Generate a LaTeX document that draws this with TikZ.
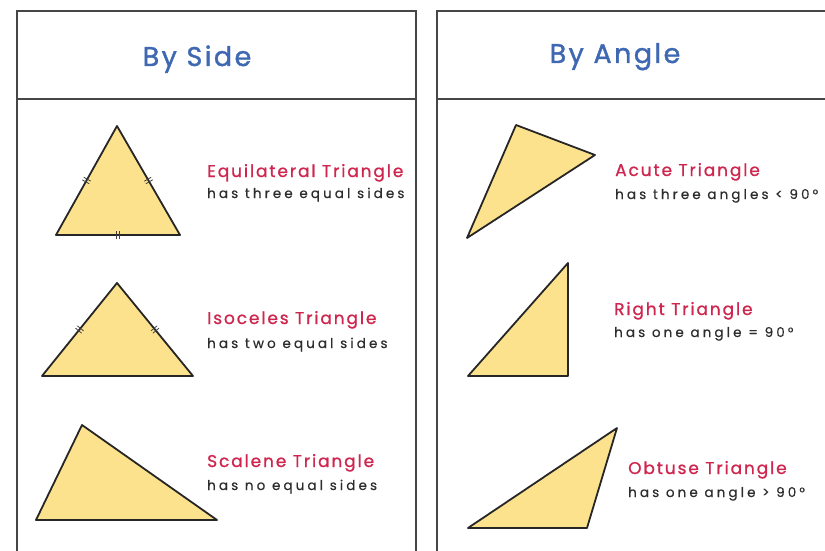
\documentclass[tikz,border=0pt]{standalone}
\usepackage{fontspec}
\setmainfont{Poppins}
\newfontfamily\headfont[LetterSpace=9, FakeBold=1.4]{Poppins}
\newfontfamily\namefont[LetterSpace=11, FakeBold=1]{Poppins}
\newfontfamily\descfont[LetterSpace=23, FakeBold=0.5]{Poppins}
\usetikzlibrary{positioning, calc}
\definecolor{headblue}{RGB}{62,104,178}
\definecolor{namered}{RGB}{206,38,78}
\definecolor{descgray}{RGB}{45,45,45}
\definecolor{triyellow}{RGB}{253,226,142}
\definecolor{framegray}{RGB}{70,70,70}
\tikzset{
  frame/.style={draw=framegray, line width=2.2pt},
  header/.style={font=\headfont\fontsize{27}{30}\selectfont, text=headblue, inner sep=0pt, anchor=base},
  tri/.style={draw=black!85, line width=1.8pt, fill=triyellow, line join=round},
  tname/.style={font=\namefont\fontsize{17}{20}\selectfont, text=namered, inner sep=0pt, anchor=base west},
  tdesc/.style={font=\descfont\fontsize{13.5}{16}\selectfont, text=descgray, inner sep=0pt},
  tickline/.style={draw=black!75, line width=0.8pt},
  dtick/.pic={\draw[tickline] (-1.5,-4) -- (-1.5,4) (1.5,-4) -- (1.5,4);},
}

\begin{document}
\begin{tikzpicture}[x=1pt, y=-1pt]
  \useasboundingbox (0,0) rectangle (825,551);

  % panels
  \draw[frame] (17,551) -- (17,11) -- (416,11) -- (416,551);
  \draw[frame] (17,99) -- (416,99);
  \draw[frame] (437,551) -- (437,11) -- (826,11);
  \draw[frame] (437,99) -- (826,99);
  \node[header] (side) at (197,66) {By Side};
  \node[header] (angle) at (615,63) {By Angle};

  % by side
  \coordinate (e1) at (117,126);
  \coordinate (e2) at (56,235);
  \coordinate (e3) at (180,235);
  \draw[tri] (e1) -- (e2) -- (e3) -- cycle;
  \path (e1) -- (e2) pic[pos=.5, sloped] {dtick};
  \path (e1) -- (e3) pic[pos=.5, sloped] {dtick};
  \path (e2) -- (e3) pic[pos=.5, sloped] {dtick};
  \node[tname] (equi) at (207,177) {Equilateral Triangle};
  \node[tdesc, below=21pt of equi.base west, anchor=base west] (equiD) {has three equal sides};

  \coordinate (i1) at (117,283);
  \coordinate (i2) at (42,376);
  \coordinate (i3) at (193,376);
  \draw[tri] (i1) -- (i2) -- (i3) -- cycle;
  \path (i1) -- (i2) pic[pos=.5, sloped] {dtick};
  \path (i1) -- (i3) pic[pos=.5, sloped] {dtick};
  \node[tname] (isos) at (207,324) {Isoceles Triangle};
  \node[tdesc, below=24pt of isos.base west, anchor=base west] (isosD) {has two equal sides};

  \coordinate (s1) at (82,425);
  \coordinate (s2) at (36,520);
  \coordinate (s3) at (217,520);
  \draw[tri] (s1) -- (s2) -- (s3) -- cycle;
  \node[tname] (scal) at (207,467) {Scalene Triangle};
  \node[tdesc, below=23pt of scal.base west, anchor=base west] (scalD) {has no equal sides};

  % by angle
  \coordinate (a1) at (516,125);
  \coordinate (a2) at (595,155);
  \coordinate (a3) at (467,238);
  \draw[tri] (a1) -- (a2) -- (a3) -- cycle;
  \node[tname] (acute) at (615,176) {Acute Triangle};
  \node[tdesc, below=23pt of acute.base west, anchor=base west] (acuteD) {has three angles < 90°};

  \coordinate (r1) at (568,263);
  \coordinate (r2) at (568,376);
  \coordinate (r3) at (468,376);
  \draw[tri] (r1) -- (r2) -- (r3) -- cycle;
  \node[tname] (right) at (614,315) {Right Triangle};
  \node[tdesc, below=22pt of right.base west, anchor=base west] (rightD) {has one angle = 90°};

  \coordinate (o1) at (617,428);
  \coordinate (o2) at (587,528);
  \coordinate (o3) at (468,528);
  \draw[tri] (o1) -- (o2) -- (o3) -- cycle;
  \node[tname] (obt) at (628,474) {Obtuse Triangle};
  \node[tdesc, below=23pt of obt.base west, anchor=base west] (obtD) {has one angle > 90°};
\end{tikzpicture}
\end{document}
